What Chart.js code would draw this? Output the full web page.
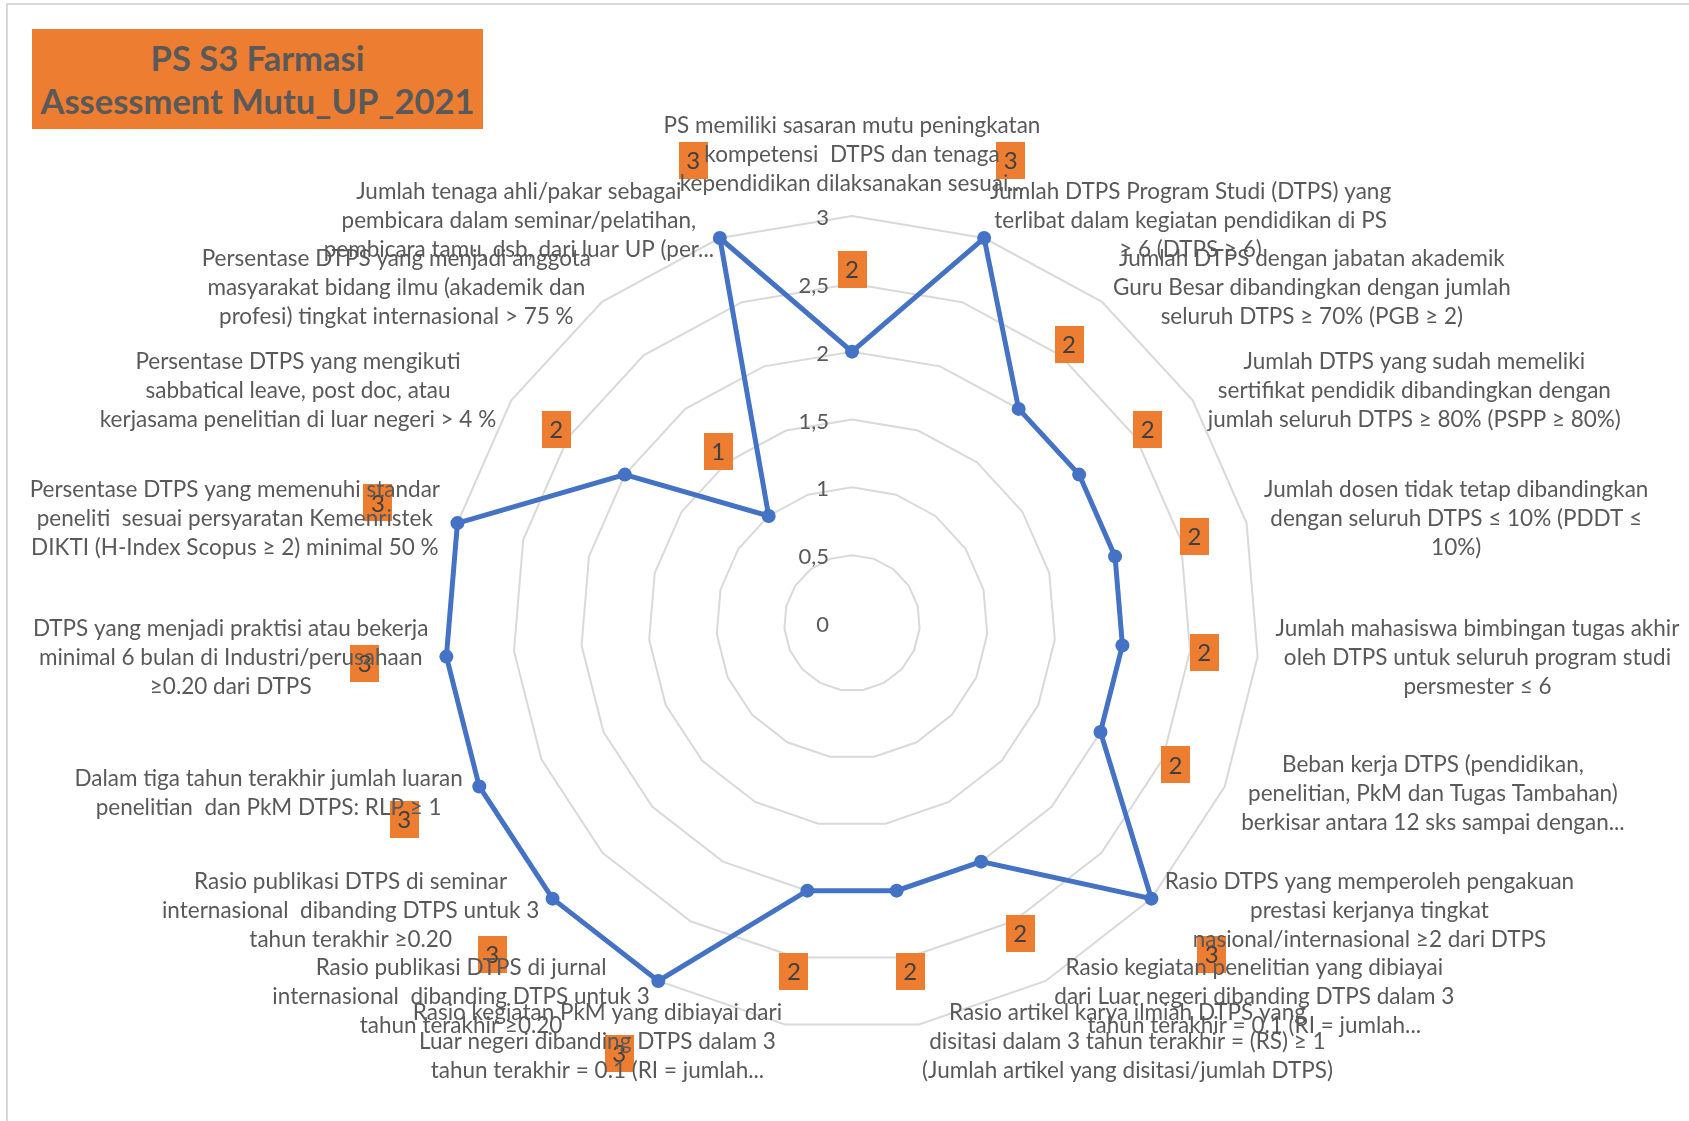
<!DOCTYPE html>
<html>
<head>
<meta charset="utf-8">
<script src="https://cdn.jsdelivr.net/npm/chart.js@4.4.1/dist/chart.umd.min.js"></script>
<style>
  html, body { margin: 0; padding: 0; background: #fff; }
  #wrap { position: relative; width: 1689px; height: 1121px; overflow: hidden; }
  #frame { position: absolute; left: 6px; top: 3px; width: 1720px; height: 1150px;
           border-left: 2px solid #d9d9d9; border-top: 2px solid #d9d9d9; }
  #title { position: absolute; left: 32px; top: 29px; width: 451px; height: 100px;
           background: #ED7D31; color: #595959; font: bold 34.5px Lato, sans-serif;
           text-align: center; line-height: 43px; padding-top: 7px; box-sizing: border-box;
           white-space: nowrap; }
  #radar { position: absolute; left: 0; top: 0; }
</style>
</head>
<body>
<div id="wrap">
  <div id="frame"></div>
  <canvas id="radar" width="1689" height="1121"></canvas>
  <div id="title">PS S3 Farmasi<br>Assessment Mutu_UP_2021</div>
</div>
<script>
// criteria, clockwise from the top
const labels = [
  ["PS memiliki sasaran mutu peningkatan", "kompetensi  DTPS dan tenaga", "kependidikan dilaksanakan sesuai..."],
  ["Jumlah DTPS Program Studi (DTPS) yang", "terlibat dalam kegiatan pendidikan di PS", "≥ 6 (DTPS ≥ 6)"],
  ["Jumlah DTPS dengan jabatan akademik", "Guru Besar dibandingkan dengan jumlah", "seluruh DTPS ≥ 70% (PGB ≥ 2)"],
  ["Jumlah DTPS yang sudah memeliki", "sertifikat pendidik dibandingkan dengan", "jumlah seluruh DTPS ≥ 80% (PSPP ≥ 80%)"],
  ["Jumlah dosen tidak tetap dibandingkan", "dengan seluruh DTPS ≤ 10% (PDDT ≤", "10%)"],
  ["Jumlah mahasiswa bimbingan tugas akhir", "oleh DTPS untuk seluruh program studi", "persmester ≤ 6"],
  ["Beban kerja DTPS (pendidikan,", "penelitian, PkM dan Tugas Tambahan)", "berkisar antara 12 sks sampai dengan..."],
  ["Rasio DTPS yang memperoleh pengakuan", "prestasi kerjanya tingkat", "nasional/internasional ≥2 dari DTPS"],
  ["Rasio kegiatan penelitian yang dibiayai", "dari Luar negeri dibanding DTPS dalam 3", "tahun terakhir = 0.1 (RI = jumlah..."],
  ["Rasio artikel karya ilmiah DTPS yang", "disitasi dalam 3 tahun terakhir = (RS) ≥ 1", "(Jumlah artikel yang disitasi/jumlah DTPS)"],
  ["Rasio kegiatan PkM yang dibiayai dari", "Luar negeri dibanding DTPS dalam 3", "tahun terakhir = 0.1 (RI = jumlah..."],
  ["Rasio publikasi DTPS di jurnal", "internasional  dibanding DTPS untuk 3", "tahun terakhir ≥0.20"],
  ["Rasio publikasi DTPS di seminar", "internasional  dibanding DTPS untuk 3", "tahun terakhir ≥0.20"],
  ["Dalam tiga tahun terakhir jumlah luaran", "penelitian  dan PkM DTPS: RLP ≥ 1"],
  ["DTPS yang menjadi praktisi atau bekerja", "minimal 6 bulan di Industri/perusahaan", "≥0.20 dari DTPS"],
  ["Persentase DTPS yang memenuhi standar", "peneliti  sesuai persyaratan Kemenristek", "DIKTI (H-Index Scopus ≥ 2) minimal 50 %"],
  ["Persentase DTPS yang mengikuti", "sabbatical leave, post doc, atau", "kerjasama penelitian di luar negeri > 4 %"],
  ["Persentase DTPS yang menjadi anggota", "masyarakat bidang ilmu (akademik dan", "profesi) tingkat internasional > 75 %"],
  ["Jumlah tenaga ahli/pakar sebagai", "pembicara dalam seminar/pelatihan,", "pembicara tamu, dsb, dari luar UP (per..."]
];

const scores = [2, 3, 2, 2, 2, 2, 2, 3, 2, 2, 2, 3, 3, 3, 3, 3, 2, 1, 3];

const tickValues = [0, 0.5, 1, 1.5, 2, 2.5, 3];
const tickText = ["0", "0,5", "1", "1,5", "2", "2,5", "3"];

const TEXT = "#595959";

// excel style texts: ticks left of the axis, orange value boxes, centred category labels
const radarText = {
  id: "radarText",
  beforeDatasetsDraw(chart) {
    const ctx = chart.ctx;
    const r = chart.scales.r;
    ctx.save();
    ctx.font = "22px Lato";
    ctx.fillStyle = TEXT;
    ctx.textAlign = "right";
    ctx.textBaseline = "middle";
    tickValues.forEach((v, i) => {
      const y = r.yCenter - r.getDistanceFromCenterForValue(v);
      ctx.fillText(tickText[i], r.xCenter - 23, y + 2);
    });
    ctx.restore();
  },
  afterDatasetsDraw(chart) {
    const ctx = chart.ctx;
    const r = chart.scales.r;
    ctx.save();

    // value boxes
    ctx.font = "24px Lato";
    ctx.textAlign = "center";
    ctx.textBaseline = "middle";
    scores.forEach((v, i) => {
      const p = r.getPointPosition(i, r.getDistanceFromCenterForValue(v) + 82);
      ctx.fillStyle = "#ED7D31";
      ctx.fillRect(Math.round(p.x - 14.5), Math.round(p.y - 18.5), 29, 37);
      ctx.fillStyle = "#404040";
      ctx.fillText(String(v), p.x, p.y + 1);
    });

    // category labels
    ctx.font = "22.5px Lato";
    ctx.fillStyle = TEXT;
    const lh = 29;
    labels.forEach((lines, i) => {
      const p = r.getPointPosition(i, r.drawingArea + 18);
      const deg = r.getIndexAngle(i) * 180 / Math.PI;
      const w = Math.max(...lines.map(t => ctx.measureText(t).width));
      const h = lines.length * lh;
      let cx, top;
      if (deg < 0.5 || deg > 359.5) {
        cx = p.x;
        top = p.y - h;
      } else {
        cx = deg < 180 ? p.x + w / 2 : p.x - w / 2;
        top = p.y - h / 2;
      }
      lines.forEach((t, k) => ctx.fillText(t, cx, top + lh * k + lh / 2));
    });
    ctx.restore();
  }
};

new Chart(document.getElementById("radar"), {
  type: "radar",
  data: {
    labels,
    datasets: [{
      data: scores,
      borderColor: "#4472C4",
      backgroundColor: "rgba(0,0,0,0)",
      fill: false,
      borderWidth: 5,
      pointRadius: 7,
      pointBackgroundColor: "#4472C4",
      pointBorderColor: "#4472C4",
      pointBorderWidth: 0
    }]
  },
  options: {
    responsive: false,
    animation: false,
    devicePixelRatio: 1,
    layout: { padding: { left: 445, top: 216, right: 430, bottom: 91 } },
    plugins: { legend: { display: false }, tooltip: { enabled: false } },
    scales: {
      r: {
        min: 0,
        max: 3,
        ticks: { stepSize: 0.5, display: false },
        pointLabels: { display: false },
        angleLines: { display: false },
        grid: { color: "#d9d9d9", lineWidth: 2 }
      }
    }
  },
  plugins: [radarText]
});
</script>
</body>
</html>
